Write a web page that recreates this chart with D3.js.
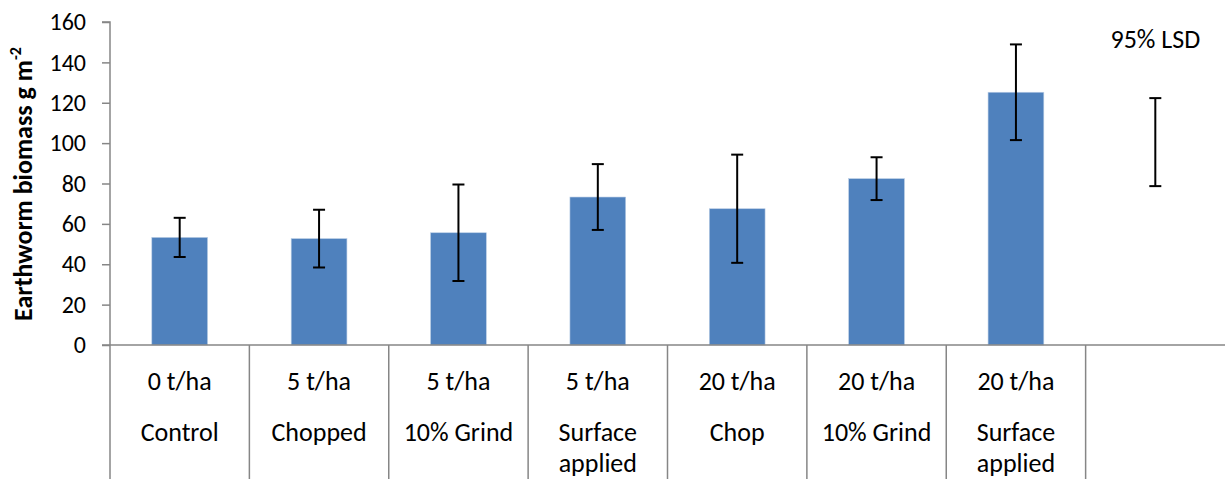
<!DOCTYPE html>
<html>
<head>
<meta charset="utf-8">
<script src="https://cdn.jsdelivr.net/npm/d3@7"></script>
<style>
  html, body { margin: 0; padding: 0; background: #fff; }
  svg { display: block; font-family: Carlito, Lato, "Open Sans", sans-serif; }
</style>
</head>
<body>
<svg id="chart" width="1225" height="479"></svg>
<script>
// Treatment groups: rate (first line) and method (remaining lines)
const rates = ["0 t/ha", "5 t/ha", "5 t/ha", "5 t/ha", "20 t/ha", "20 t/ha", "20 t/ha"];
const methods = [["Control"], ["Chopped"], ["10% Grind"], ["Surface", "applied"], ["Chop"], ["10% Grind"], ["Surface", "applied"]];
// Mean earthworm biomass (g m-2) and error half-widths
const biomass = [53.3, 52.7, 55.6, 73.3, 67.5, 82.4, 125.2];
const errHalf = [9.7, 14.3, 23.9, 16.3, 26.8, 10.6, 23.7];
// 95% least significant difference, drawn as a reference bar
const lsdCentre = 100.5;
const lsdHalf = 21.8;
const yTicks = [0, 20, 40, 60, 80, 100, 120, 140, 160];

const svg = d3.select("#chart");
const W = 1225, H = 479;
const m = { left: 110, right: 0, top: 22, bottom: 134 };
const plotBottom = H - m.bottom;
const fontStack = "Carlito, Lato, 'Open Sans', sans-serif";

const slots = d3.range(rates.length + 1); // extra slot holds the LSD bar
const x = d3.scaleBand().domain(slots).range([m.left, W - m.right]).paddingInner(0).paddingOuter(0);
const y = d3.scaleLinear().domain([0, 160]).range([plotBottom, m.top]);

const axisColor = "#868686";
const barColor = "#4F81BD";

// Bars
svg.append("g").selectAll("rect").data(biomass).join("rect")
  .attr("x", (d, i) => x(i) + x.bandwidth() * 0.3)
  .attr("width", x.bandwidth() * 0.4)
  .attr("y", d => y(d))
  .attr("height", d => y(0) - y(d))
  .attr("fill", barColor)
  .attr("stroke", "#b9cde5")
  .attr("stroke-width", 0.6);

// Error bars
function errorBar(g, cx, lo, hi) {
  const cap = 6;
  g.append("line").attr("x1", cx).attr("x2", cx).attr("y1", y(lo)).attr("y2", y(hi));
  g.append("line").attr("x1", cx - cap).attr("x2", cx + cap).attr("y1", y(lo)).attr("y2", y(lo));
  g.append("line").attr("x1", cx - cap).attr("x2", cx + cap).attr("y1", y(hi)).attr("y2", y(hi));
}
const eg = svg.append("g").attr("stroke", "#000").attr("stroke-width", 2);
biomass.forEach((v, i) => errorBar(eg, x(i) + x.bandwidth() / 2, v - errHalf[i], v + errHalf[i]));
const lsdX = x(rates.length) + x.bandwidth() / 2;
errorBar(eg, lsdX, lsdCentre - lsdHalf, lsdCentre + lsdHalf);

svg.append("text")
  .attr("x", lsdX).attr("y", 48)
  .attr("text-anchor", "middle")
  .attr("font-size", 26).attr("fill", "#000")
  .text("95% LSD");

// Y axis
const yAxis = svg.append("g")
  .attr("transform", `translate(${m.left},0)`)
  .call(d3.axisLeft(y).tickValues(yTicks).tickSize(8).tickPadding(16));
yAxis.select(".domain").attr("stroke", axisColor).attr("stroke-width", 1.5).attr("d", `M-8,${m.top}H0V${plotBottom}`);
yAxis.selectAll(".tick line").attr("stroke", axisColor).attr("stroke-width", 1.5);
yAxis.selectAll(".tick text").attr("font-size", 24).attr("fill", "#000").attr("font-family", fontStack);

// Category axis: baseline plus vertical separators down to the bottom edge
const xg = svg.append("g").attr("stroke", axisColor).attr("stroke-width", 1.5);
xg.append("line").attr("x1", m.left - 8).attr("x2", W).attr("y1", plotBottom).attr("y2", plotBottom);
slots.forEach(i => {
  xg.append("line").attr("x1", x(i)).attr("x2", x(i)).attr("y1", plotBottom).attr("y2", H);
});

// Category labels
const lg = svg.append("g").attr("font-size", 26).attr("fill", "#000").attr("text-anchor", "middle");
rates.forEach((r, i) => {
  const cx = x(i) + x.bandwidth() / 2;
  lg.append("text").attr("x", cx).attr("y", 390).text(r);
  methods[i].forEach((line, j) => {
    lg.append("text").attr("x", cx).attr("y", 441 + j * 31).text(line);
  });
});

// Y axis title
const yt = svg.append("text")
  .attr("transform", `translate(32,184) rotate(-90)`)
  .attr("text-anchor", "middle")
  .attr("font-size", 26).attr("font-weight", "bold").attr("fill", "#000");
yt.append("tspan").text("Earthworm biomass g m");
yt.append("tspan").attr("font-size", 16).attr("dy", -11).text("-2");
</script>
</body>
</html>
